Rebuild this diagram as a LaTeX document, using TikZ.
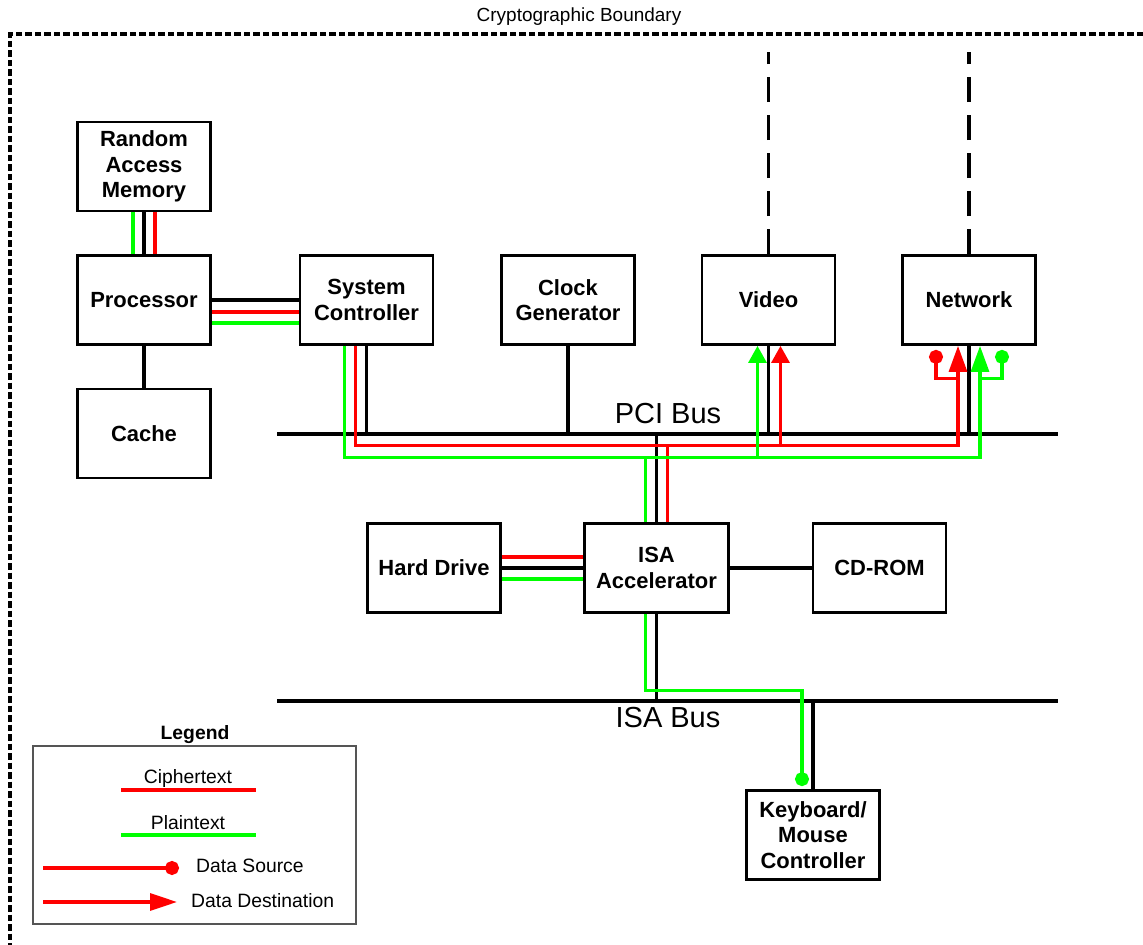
\documentclass[tikz,border=0pt]{standalone}
\usepackage{fontspec}
\setmainfont{Liberation Sans}
\usepackage{xcolor}
\usepackage{tikz}
\usetikzlibrary{arrows.meta,calc}
\definecolor{CipherRed}{HTML}{FF0000}
\definecolor{PlainGreen}{HTML}{00FF00}
\definecolor{FrameGray}{HTML}{555555}

\begin{document}
\begin{tikzpicture}[x=0.02cm,y=-0.02cm,
    unitbox/.style={draw,line width=1.6pt,minimum width=2.66cm,minimum height=1.78cm,
      align=center,inner sep=0pt,font=\bfseries\fontsize{12.5}{14.5}\selectfont},
    wire/.style={line width=1.8pt},
    cipher/.style={wire,draw=CipherRed},
    plain/.style={wire,draw=PlainGreen},
    dest/.style={-{Triangle[length=0.34cm,width=0.36cm]}},
    bigdest/.style={-{Triangle[length=0.52cm,width=0.36cm]}},
    src/.style={-{Circle[length=0.28cm]}},
    buslabel/.style={font=\fontsize{16.5}{18}\selectfont},
    legtext/.style={font=\fontsize{11}{13}\selectfont}]
    \useasboundingbox (0,0) rectangle (1143,945);

    % Cryptographic boundary.
    \draw[line width=1.9pt,dash pattern=on 0.13cm off 0.06cm] (1143,34) -- (10,34) -- (10,945);
    \node[font=\fontsize{10.8}{12}\selectfont] (bndlabel) at (579,17) {Cryptographic Boundary};

    % Units.
    \node[unitbox] (ram) at (144,166.5) {Random\\Access\\Memory};
    \node[unitbox] (cpu) at (144,300) {Processor};
    \node[unitbox] (cache) at (144,433.5) {Cache};
    \node[unitbox] (ctrl) at (366.5,300) {System\\Controller};
    \node[unitbox] (clock) at (568,300) {Clock\\Generator};
    \node[unitbox] (video) at (768.5,300) {Video};
    \node[unitbox] (net) at (969,300) {Network};
    \node[unitbox] (hdd) at (434,568) {Hard Drive};
    \node[unitbox,minimum width=2.88cm] (isa) at (656.5,568) {ISA\\Accelerator};
    \node[unitbox] (cdrom) at (879.5,568) {CD-ROM};
    \node[unitbox] (kbd) at (813,835) {Keyboard/\\Mouse\\Controller};

    % Buses.
    \coordinate (pciL) at (277,434);
    \coordinate (pciR) at (1058,434);
    \coordinate (isaL) at (277,701);
    \coordinate (isaR) at (1058,701);
    \draw[wire] (pciL) -- (pciR);
    \draw[wire] (isaL) -- (isaR);
    \node[buslabel] (pcilabel) at (668,414) {PCI Bus};
    \node[buslabel] (isalabel) at (668,718) {ISA Bus};

    % External links above video and network.
    \coordinate (linktop) at (0,52);
    \draw[wire,dash pattern=on 0.5cm off 0.26cm] (video.north) -- (video.north |- linktop);
    \draw[wire,dash pattern=on 0.5cm off 0.26cm] (net.north) -- (net.north |- linktop);

    % Black connections.
    \draw[wire] (ram) -- (cpu);
    \draw[wire] (cpu) -- (cache);
    \draw[wire] (cpu) -- (ctrl);
    \draw[wire] (ctrl.south) -- (ctrl.south |- pciL);
    \draw[wire] (clock.south) -- (clock.south |- pciL);
    \draw[wire] (video.south) -- (video.south |- pciL);
    \draw[wire] (net.south) -- (net.south |- pciL);
    \draw[wire] (isa.north) -- (isa.north |- pciL);
    \draw[wire] (isa.south) -- (isa.south |- isaL);
    \draw[wire] (kbd.north) -- (kbd.north |- isaL);
    \draw[wire] (hdd) -- (isa);
    \draw[wire] (isa) -- (cdrom);

    % Ciphertext paths.
    \draw[cipher] ($(ram.south)+(11,0)$) -- ($(cpu.north)+(11,0)$);
    \draw[cipher] ($(cpu.east)+(0,12)$) -- ($(ctrl.west)+(0,12)$);
    \draw[cipher] ($(hdd.east)+(0,-11)$) -- ($(isa.west)+(0,-11)$);
    \draw[cipher,bigdest] ($(ctrl.south)+(-11,0)$) -- ++(0,100) -| ($(net.south)+(-11,0)$);
    \draw[cipher,dest] ($(video.south)+(12,100)$) -- ($(video.south)+(12,0)$);
    \draw[cipher] ($(isa.north)+(11,0)$) -- ++(0,-78);
    \draw[cipher,src] ($(net.south)+(-11,33)$) -| ($(net.south)+(-33,4)$);

    % Plaintext paths.
    \draw[plain] ($(ram.south)+(-11,0)$) -- ($(cpu.north)+(-11,0)$);
    \draw[plain] ($(cpu.east)+(0,23)$) -- ($(ctrl.west)+(0,23)$);
    \draw[plain] ($(hdd.east)+(0,11)$) -- ($(isa.west)+(0,11)$);
    \draw[plain,bigdest] ($(ctrl.south)+(-22,0)$) -- ++(0,112) -| ($(net.south)+(11,0)$);
    \draw[plain,dest] ($(video.south)+(-11,112)$) -- ($(video.south)+(-11,0)$);
    \draw[plain] ($(isa.north)+(-11,0)$) -- ++(0,-66);
    \draw[plain,src] ($(net.south)+(11,33)$) -| ($(net.south)+(33,4)$);
    \draw[plain,src] ($(isa.south)+(-11,0)$) -- ++(0,77) -| ($(kbd.north)+(-11,-3)$);

    % Legend.
    \node[font=\bfseries\fontsize{11}{13}\selectfont] (legtitle) at (195,735) {Legend};
    \node[draw=FrameGray,line width=0.7pt,minimum width=6.46cm,minimum height=3.56cm] (legbox)
      at (194.5,835) {};
    \node[legtext] (legcipher) at (188,779) {Ciphertext};
    \draw[cipher] (121,790) -- (256,790);
    \node[legtext] (legplain) at (188,823) {Plaintext};
    \draw[plain] (121,835) -- (256,835);
    \draw[cipher,src] (43,868) -- (179,868);
    \node[legtext,anchor=west] (legsrc) at (190,866) {Data Source};
    \draw[cipher,-{Triangle[length=0.54cm,width=0.34cm]}] (43,902) -- (177,902);
    \node[legtext,anchor=west] (legdest) at (185,901) {Data Destination};
\end{tikzpicture}
\end{document}
